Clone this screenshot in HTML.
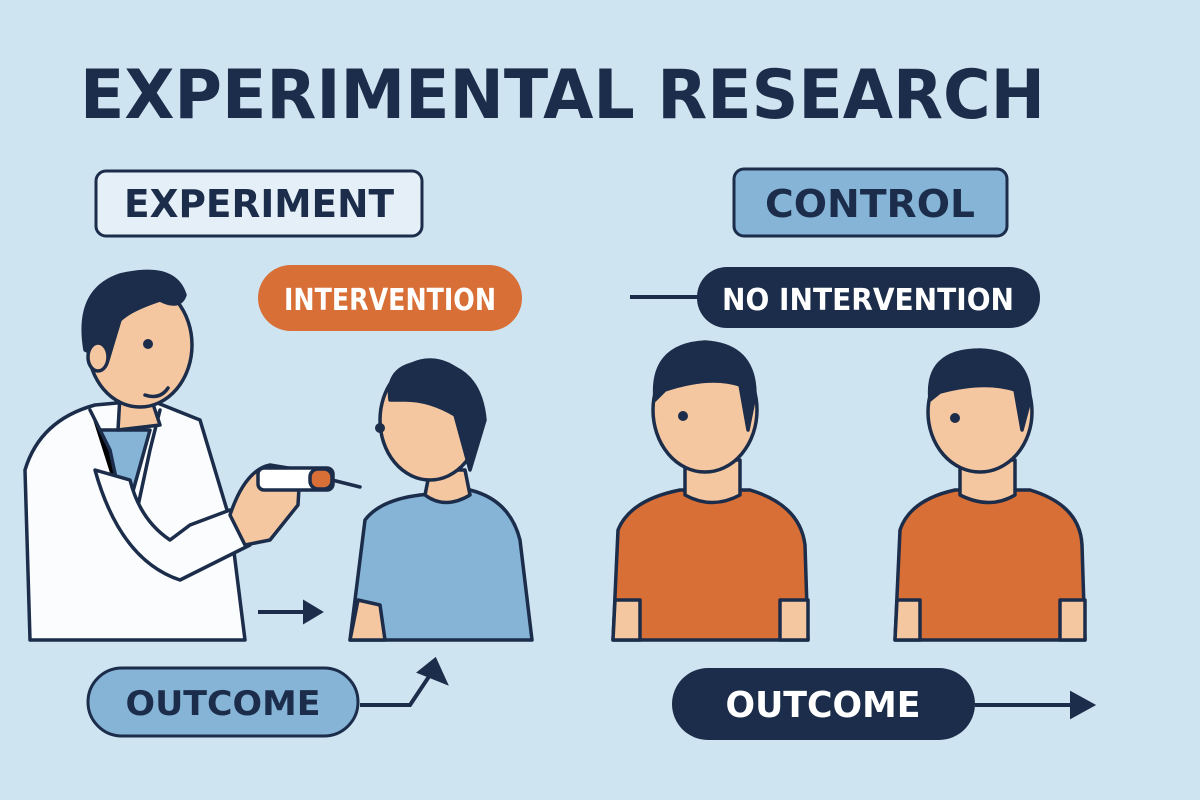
<!DOCTYPE html>
<html><head><style>
body{margin:0;background:#cfe4f1;}
svg{display:block}
text{font-family:"DejaVu Sans","Liberation Sans",sans-serif;font-weight:bold}
</style></head><body>
<svg width="1200" height="800" viewBox="0 0 1200 800">
<rect width="1200" height="800" fill="#cfe4f1"/>
<text x="80" y="118" font-size="68" fill="#1b2d4a" textLength="965" lengthAdjust="spacingAndGlyphs">EXPERIMENTAL RESEARCH</text>

<rect x="96" y="171" width="326" height="65" rx="10" fill="#e4eff7" stroke="#1b2d4a" stroke-width="3"/>
<text x="259" y="217" font-size="38" fill="#1b2d4a" text-anchor="middle" textLength="270" lengthAdjust="spacingAndGlyphs">EXPERIMENT</text>
<rect x="734" y="169" width="273" height="67" rx="10" fill="#86b4d6" stroke="#1b2d4a" stroke-width="3"/>
<text x="870" y="217" font-size="38" fill="#1b2d4a" text-anchor="middle" textLength="210" lengthAdjust="spacingAndGlyphs">CONTROL</text>

<rect x="258" y="265" width="264" height="66" rx="33" fill="#d86f36"/>
<text x="390" y="310" font-size="30" fill="#fff" text-anchor="middle" textLength="212" lengthAdjust="spacingAndGlyphs">INTERVENTION</text>
<line x1="630" y1="297" x2="700" y2="297" stroke="#1b2d4a" stroke-width="4"/>
<rect x="697" y="267" width="343" height="61" rx="30" fill="#1b2d4a"/>
<text x="868" y="310" font-size="30" fill="#fff" text-anchor="middle" textLength="292" lengthAdjust="spacingAndGlyphs">NO INTERVENTION</text>

<g stroke="#1b2d4a" stroke-width="3.5" stroke-linejoin="round" stroke-linecap="round">
<!-- doctor -->
<path d="M30 640 L25 470 Q40 420 95 405 L150 400 L200 420 L230 520 L245 640 Z" fill="#fbfcfd"/>
<path d="M100 430 L125 520 L150 430 Z" fill="#86b4d6"/>
<path d="M90 410 L110 450 L125 520 M160 410 L150 450 L135 520"/>
<path d="M95 470 Q120 560 180 580 L250 545 L230 510 L190 525 L170 540 Q140 520 130 480 Z" fill="#fbfcfd"/>
<path d="M230 515 Q245 470 270 465 L300 470 L298 505 L270 540 L245 545 Z" fill="#f5c7a0"/>
<rect x="258" y="468" width="75" height="22" rx="6" fill="#fff"/>
<rect x="310" y="469" width="22" height="20" rx="8" fill="#d86f36"/>
<line x1="332" y1="480" x2="360" y2="487"/>
<path d="M120 395 L118 430 L160 425 L150 395 Z" fill="#f5c7a0"/>
<ellipse cx="140" cy="345" rx="52" ry="62" fill="#f5c7a0"/>
<path d="M85 350 Q75 290 120 275 Q175 262 185 295 Q180 310 160 300 Q130 310 120 320 L108 360 Z" fill="#1b2d4a"/>
<ellipse cx="98" cy="357" rx="10" ry="14" fill="#f5c7a0"/>
<path d="M145 395 Q160 400 168 388" fill="none"/>
<!-- patient -->
<path d="M350 640 L365 520 Q380 500 420 495 L470 490 Q510 500 520 540 L532 640 Z" fill="#86b4d6"/>
<path d="M430 470 L425 495 Q445 510 470 495 L465 470 Z" fill="#f5c7a0"/>
<path d="M350 640 L358 600 L380 605 L385 640Z" fill="#f5c7a0"/>
<ellipse cx="430" cy="420" rx="50" ry="60" fill="#f5c7a0"/>
<path d="M390 400 Q385 362 430 362 Q480 365 485 420 L470 470 L455 415 Q430 400 405 400 Z" fill="#1b2d4a"/>
<!-- control 1 -->
<path d="M613 640 L618 530 Q630 500 680 490 L750 490 Q800 505 805 545 L808 640 Z" fill="#d86f36"/>
<path d="M615 600 L640 600 L640 640 L613 640Z M780 600 L808 600 L808 640 L780 640Z" fill="#f5c7a0"/>
<path d="M685 460 L685 495 Q712 510 740 495 L740 460 Z" fill="#f5c7a0"/>
<ellipse cx="705" cy="410" rx="52" ry="62" fill="#f5c7a0"/>
<path d="M655 400 Q650 345 705 342 Q755 345 755 395 L748 430 L740 385 Q710 375 665 390 Z" fill="#1b2d4a"/>
<!-- control 2 -->
<path d="M895 640 L900 530 Q910 500 955 490 L1030 490 Q1080 505 1082 545 L1085 640 Z" fill="#d86f36"/>
<path d="M897 600 L920 600 L920 640 L895 640Z M1060 600 L1085 600 L1085 640 L1060 640Z" fill="#f5c7a0"/>
<path d="M960 460 L960 495 Q990 510 1015 495 L1015 460 Z" fill="#f5c7a0"/>
<ellipse cx="980" cy="412" rx="52" ry="60" fill="#f5c7a0"/>
<path d="M930 400 Q925 350 980 350 Q1030 352 1030 400 L1022 430 L1015 390 Q985 380 940 392 Z" fill="#1b2d4a"/>
</g>
<g stroke="#1b2d4a" stroke-width="4" fill="#1b2d4a">
<circle cx="148" cy="344" r="3"/><circle cx="380" cy="428" r="3"/><circle cx="683" cy="416" r="3"/><circle cx="955" cy="418" r="3"/>
<line x1="258" y1="612" x2="305" y2="612"/><path d="M305 603 L320 612 L305 621Z"/>
<path d="M360 705 L410 705 L430 675" fill="none"/><path d="M420 672 L435 660 L445 682Z"/>
<line x1="975" y1="705" x2="1075" y2="705"/><path d="M1072 694 L1092 705 L1072 716Z"/>
</g>
<rect x="88" y="668" width="270" height="68" rx="34" fill="#86b4d6" stroke="#1b2d4a" stroke-width="3"/>
<text x="223" y="715" font-size="34" fill="#1b2d4a" text-anchor="middle" textLength="195" lengthAdjust="spacingAndGlyphs">OUTCOME</text>
<rect x="672" y="668" width="303" height="72" rx="36" fill="#1b2d4a"/>
<text x="823" y="717" font-size="36" fill="#fff" text-anchor="middle" textLength="195" lengthAdjust="spacingAndGlyphs">OUTCOME</text>
</svg>
</body></html>
